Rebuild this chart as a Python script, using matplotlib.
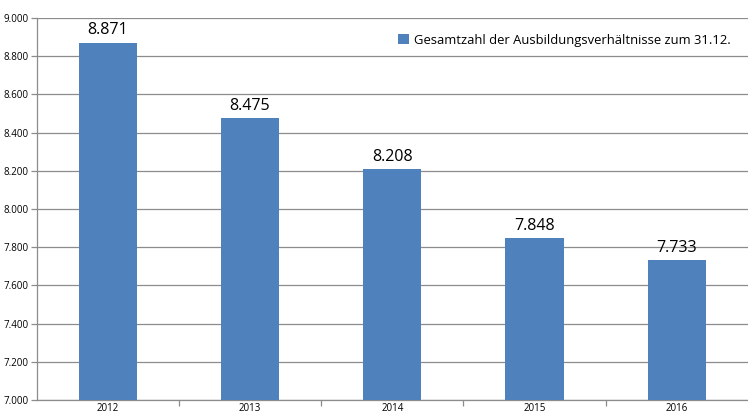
import matplotlib
matplotlib.use("Agg")
import matplotlib.pyplot as plt
from matplotlib.ticker import FuncFormatter, FixedLocator

years = ["2012", "2013", "2014", "2015", "2016"]
values = [8871, 8475, 8208, 7848, 7733]
series_name = "Gesamtzahl der Ausbildungsverhältnisse zum 31.12."

def de(v):
    return f"{v:,.0f}".replace(",", ".")

plt.rcParams['font.family'] = ['Open Sans', 'DejaVu Sans']

fig = plt.figure(figsize=(7.48, 4.17), dpi=100)
ax = fig.add_axes([0.049, 0.041, 0.951, 0.916])

bar_color = "#4f81bd"
x = list(range(len(years)))
bars = ax.bar(x, values, width=0.41, color=bar_color, label=series_name, zorder=3)
ax.set_ylim(7000, 9000)
ax.set_xlim(-0.5, len(years) - 0.5)
ax.yaxis.set_major_locator(FixedLocator(range(7000, 9001, 200)))
ax.yaxis.set_major_formatter(FuncFormatter(lambda v, p: de(v)))
ax.grid(axis='y', color='#8c8c8c', linewidth=0.9, zorder=0)

for b, v in zip(bars, values):
    ax.annotate(de(v), (b.get_x() + b.get_width() / 2, v), xytext=(0, 3),
                textcoords='offset points', ha='center', va='bottom',
                fontsize=11.5, color='#000000')

ax.set_xticks(x)
ax.set_xticklabels(years, fontsize=7)
ax.tick_params(axis='x', length=0, pad=2.5)
ax.set_xticks([i + 0.5 for i in x[:-1]], minor=True)
ax.tick_params(axis='x', which='minor', length=4, color='#8c8c8c', width=0.9)
ax.tick_params(axis='y', labelsize=7, length=4, color='#8c8c8c', width=0.9, pad=2)

for s in ['top', 'right']:
    ax.spines[s].set_visible(False)
ax.spines['left'].set_color('#8c8c8c')
ax.spines['bottom'].set_color('#8c8c8c')
ax.spines['left'].set_linewidth(0.9)
ax.spines['bottom'].set_linewidth(0.9)

leg = ax.legend(loc='upper right', bbox_to_anchor=(0.992, 0.99), frameon=False,
                fontsize=9.4, handlelength=0.8, handleheight=0.8, handletextpad=0.4)

fig.savefig("out.png", dpi=100)
